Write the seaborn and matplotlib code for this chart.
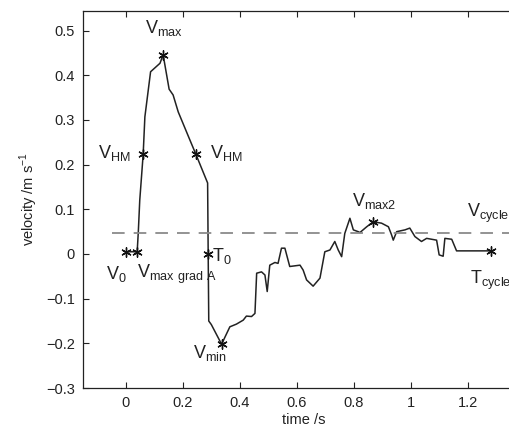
import matplotlib
matplotlib.use("Agg")
import matplotlib.pyplot as plt
import seaborn as sns
import pandas as pd

# ---- data ----
time_s = [0.0, 0.04, 0.044, 0.049, 0.061, 0.067, 0.087, 0.12, 0.131, 0.152, 0.166,
          0.184, 0.225, 0.246, 0.287, 0.289, 0.291, 0.30, 0.336, 0.365, 0.388,
          0.412, 0.423, 0.441, 0.453, 0.459, 0.476, 0.488, 0.496, 0.505, 0.523,
          0.534, 0.546, 0.558, 0.575, 0.611, 0.622, 0.634, 0.657, 0.681, 0.698,
          0.716, 0.733, 0.745, 0.757, 0.768, 0.786, 0.798, 0.815, 0.821, 0.845,
          0.868, 0.897, 0.921, 0.932, 0.938, 0.950, 0.979, 0.996, 1.014, 1.037,
          1.055, 1.090, 1.099, 1.113, 1.119, 1.143, 1.160, 1.280]
velocity = [0.005, 0.005, 0.05, 0.12, 0.223, 0.307, 0.408, 0.427, 0.446, 0.369, 0.356,
            0.318, 0.255, 0.223, 0.159, 0.0, -0.150, -0.158, -0.202, -0.163, -0.157,
            -0.148, -0.139, -0.140, -0.133, -0.043, -0.040, -0.047, -0.084, -0.025, -0.019,
            -0.021, 0.013, 0.013, -0.028, -0.025, -0.036, -0.058, -0.072, -0.054, 0.005,
            0.009, 0.028, 0.009, -0.006, 0.046, 0.080, 0.054, 0.050, 0.048, 0.061,
            0.072, 0.069, 0.061, 0.043, 0.031, 0.050, 0.054, 0.058, 0.039, 0.028,
            0.035, 0.031, -0.002, -0.005, 0.035, 0.033, 0.007, 0.007]

marker_names = ["V0", "Vmaxgrad", "VHM1", "Vmax", "VHM2", "T0", "Vmin", "Vmax2", "Tcycle"]
marker_t = [0.0, 0.04, 0.061, 0.131, 0.246, 0.289, 0.336, 0.868, 1.28]
marker_v = [0.005, 0.005, 0.223, 0.446, 0.223, 0.0, -0.202, 0.072, 0.007]

v_cycle = 0.048
v_cycle_t = [-0.05, 1.45]

labels = [r"$\mathregular{V_{max}}$", r"$\mathregular{V_{HM}}$", r"$\mathregular{V_{HM}}$",
          r"$\mathregular{V_0}$", r"$\mathregular{V_{max\ grad\ A}}$", r"$\mathregular{T_0}$",
          r"$\mathregular{V_{min}}$", r"$\mathregular{V_{max2}}$", r"$\mathregular{V_{cycle}}$",
          r"$\mathregular{T_{cycle}}$"]
label_x = [0.067, 0.018, 0.295, -0.07, 0.038, 0.302, 0.235, 0.792, 1.197, 1.208]
label_y = [0.505, 0.225, 0.225, -0.045, -0.045, -0.004, -0.222, 0.118, 0.09, -0.058]
label_ha = ["left", "right", "left", "left", "left", "left", "left", "left", "left", "left"]

xticks = [0, 0.2, 0.4, 0.6, 0.8, 1, 1.2]
xticklabels = ["0", "0.2", "0.4", "0.6", "0.8", "1", "1.2"]
yticks = [-0.3, -0.2, -0.1, 0, 0.1, 0.2, 0.3, 0.4, 0.5]
yticklabels = ["\u22120.3", "\u22120.2", "\u22120.1", "0", "0.1", "0.2", "0.3", "0.4", "0.5"]

# ---- plotting ----
sns.set_style("ticks")
plt.rcParams["font.family"] = ["Liberation Sans", "DejaVu Sans"]
plt.rcParams["mathtext.fontset"] = "custom"
plt.rcParams["mathtext.rm"] = "Liberation Sans"

fig = plt.figure(figsize=(5.10, 4.36), dpi=100)
ax = fig.add_axes([83 / 510, 1 - 388 / 436, (525 - 83) / 510, (388 - 11) / 436])

curve = pd.DataFrame({"t": time_s, "v": velocity})
sns.lineplot(data=curve, x="t", y="v", ax=ax, color="#222222", linewidth=1.1,
             sort=False, estimator=None)

dash = pd.DataFrame({"t": v_cycle_t, "v": [v_cycle, v_cycle]})
sns.lineplot(data=dash, x="t", y="v", ax=ax, color="#8a8a8a", linewidth=1.3,
             linestyle=(0, (7, 5)), estimator=None)

pts = pd.DataFrame({"t": marker_t, "v": marker_v, "name": marker_names})
sns.scatterplot(data=pts, x="t", y="v", ax=ax, marker=(6, 2, 0), s=45,
                color="#111111", linewidth=1.0, zorder=5)

for txt, x, y, ha in zip(labels, label_x, label_y, label_ha):
    ax.text(x, y, txt, fontsize=13, ha=ha, va="center", color="#222222")

ax.set_xlim(-0.15, 1.4)
ax.set_ylim(-0.3, 0.544)
ax.set_xticks(xticks)
ax.set_xticklabels(xticklabels)
ax.set_yticks(yticks)
ax.set_yticklabels(yticklabels)
ax.tick_params(direction="in", length=4, width=0.8, labelsize=10.5, colors="#222222",
               top=True, right=True, pad=6)
for s in ax.spines.values():
    s.set_visible(True)
    s.set_linewidth(0.9)
    s.set_color("#222222")
ax.set_xlabel("time /s", fontsize=10.5, labelpad=2, color="#222222")
ax.set_ylabel(r"velocity /m s$^{\mathregular{-1}}$", fontsize=10.5, labelpad=4, color="#222222")

fig.savefig("out.png", dpi=100)
